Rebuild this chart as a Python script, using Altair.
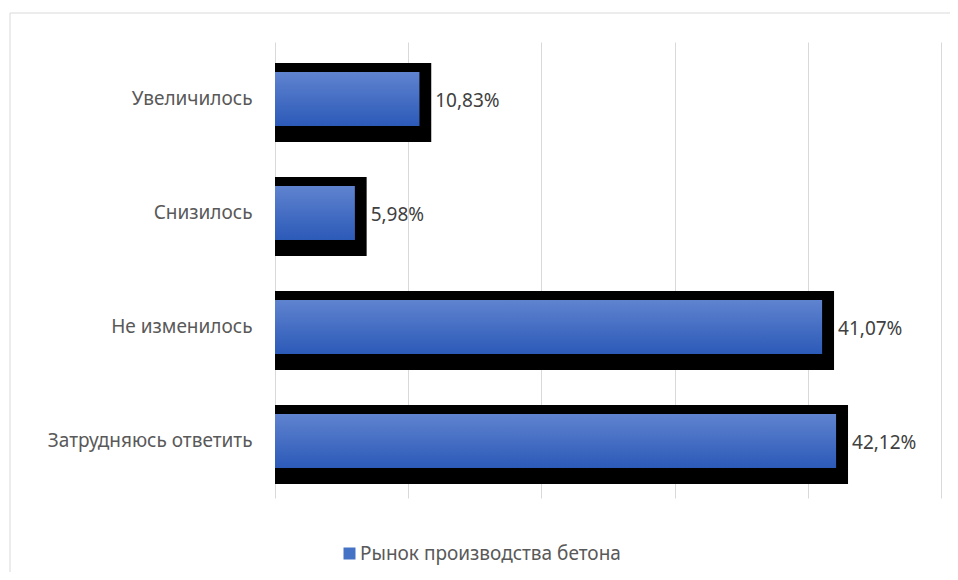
import altair as alt
import pandas as pd

categories = ["Увеличилось", "Снизилось", "Не изменилось", "Затрудняюсь ответить"]
values = [10.83, 5.98, 41.07, 42.12]
series_name = "Рынок производства бетона"
x_ticks = [0, 10, 20, 30, 40, 50]

df = pd.DataFrame({"cat": categories, "value": values, "series": [series_name] * len(categories)})

FONT = "Noto Sans"
FS = 19
W, H = 666, 456

y_enc = alt.Y("cat:N", sort=categories, title=None,
              axis=alt.Axis(domain=False, ticks=False, labelPadding=23, labelFontSize=FS,
                            labelColor="#595959", labelFont=FONT, grid=False, labelLimit=0))
x_scale = alt.Scale(domain=[0, 50], nice=False, zero=True)
x_enc = alt.X("value:Q", scale=x_scale, title=None,
              axis=alt.Axis(values=x_ticks, labels=False, ticks=False, domain=False,
                            grid=True, gridColor="#d9d9d9", gridWidth=1))

base = alt.Chart(df)

shadow = base.transform_calculate(end="datum.value + 0.9").mark_bar(
    color="black", size=79, yOffset=3.5
).encode(y=y_enc, x=alt.X("end:Q", scale=x_scale), x2=alt.datum(0))

legend_bar = base.mark_bar(size=54).encode(
    y=y_enc, x=x_enc,
    color=alt.Color("series:N", scale=alt.Scale(range=["#4472c4"]),
                    legend=alt.Legend(title=None, orient="none", legendX=65, legendY=502,
                                      symbolType="square", symbolSize=144, labelFontSize=FS,
                                      labelFont=FONT, labelColor="#595959", padding=0,
                                      symbolStrokeWidth=0, labelOffset=1, labelLimit=0))
)

grad = alt.Gradient(
    gradient="linear",
    stops=[alt.GradientStop(color="#5f83cf", offset=0),
           alt.GradientStop(color="#2c5ab8", offset=1)],
    x1=0, x2=0, y1=0, y2=1,
)
blue = base.mark_bar(size=54, color=grad).encode(y=y_enc, x=x_enc)

labels = base.transform_calculate(
    lbl="replace(format(datum.value, '.2f'), '.', ',') + '%'"
).mark_text(align="left", baseline="middle", dx=16, dy=2, fontSize=FS, font=FONT,
            color="#404040").encode(y=y_enc, x=x_enc, text="lbl:N")

border = alt.Chart(pd.DataFrame({"a": [0]})).mark_rect(
    fill="white", fillOpacity=0, stroke="#d9d9d9", strokeWidth=1
).encode(x=alt.value(-265), x2=alt.value(1200), y=alt.value(-29), y2=alt.value(1200))

chart = alt.layer(border, shadow, legend_bar, blue, labels).properties(
    width=W, height=H,
    autosize=alt.AutoSizeParams(type="none"),
    padding={"left": 267, "top": 34, "right": 9, "bottom": 74},
).configure_view(stroke=None)

chart.save("out.html", embed_options={"renderer": "svg", "actions": False})
